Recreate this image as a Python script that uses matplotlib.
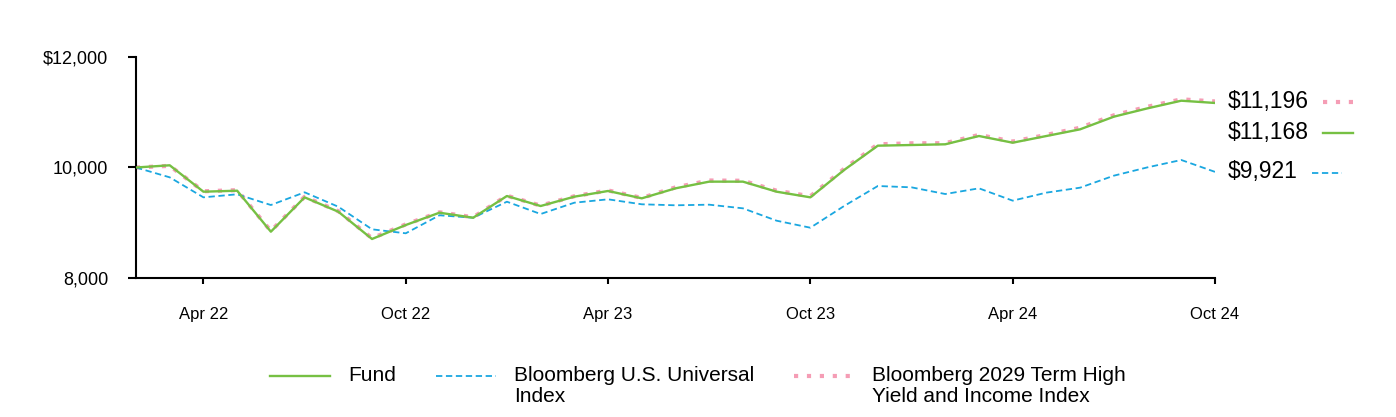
import matplotlib.pyplot as plt
from matplotlib.lines import Line2D
from matplotlib.ticker import FuncFormatter

plt.rcParams['font.family'] = ['Liberation Sans', 'DejaVu Sans']

# monthly values, Feb 22 .. Oct 24
months = ["Feb 22", "Mar 22", "Apr 22", "May 22", "Jun 22", "Jul 22", "Aug 22", "Sep 22",
          "Oct 22", "Nov 22", "Dec 22", "Jan 23", "Feb 23", "Mar 23", "Apr 23", "May 23",
          "Jun 23", "Jul 23", "Aug 23", "Sep 23", "Oct 23", "Nov 23", "Dec 23", "Jan 24",
          "Feb 24", "Mar 24", "Apr 24", "May 24", "Jun 24", "Jul 24", "Aug 24", "Sep 24",
          "Oct 24"]
fund = [10000, 10040, 9562, 9580, 8838, 9460, 9200, 8706, 8959, 9182, 9091, 9484,
        9303, 9472, 9575, 9442, 9623, 9744, 9744, 9562, 9460, 9955, 10395, 10407,
        10420, 10570, 10449, 10570, 10691, 10920, 11071, 11209, 11168]
universal = [10000, 9822, 9460, 9515, 9321, 9551, 9290, 8881, 8809, 9135, 9091, 9381,
             9158, 9363, 9424, 9334, 9316, 9327, 9261, 9037, 8910, 9303, 9665, 9641,
             9520, 9623, 9400, 9545, 9635, 9852, 10003, 10136, 9921]
high_yield = [10000, 10030, 9570, 9590, 8850, 9470, 9210, 8720, 8970, 9190, 9100, 9490,
              9310, 9480, 9585, 9450, 9640, 9765, 9760, 9580, 9480, 9975, 10420, 10438,
              10440, 10590, 10470, 10590, 10720, 10945, 11100, 11234, 11196]
tick_labels = ["Apr 22", "Oct 22", "Apr 23", "Oct 23", "Apr 24", "Oct 24"]
names = ["Fund", "Bloomberg U.S. Universal\nIndex", "Bloomberg 2029 Term High\nYield and Income Index"]
end_labels = ["$11,168", "$9,921", "$11,196"]

GREEN = "#76C043"
BLUE = "#1AA7E0"
PINK = "#F59DB5"

fig = plt.figure(figsize=(13.96, 4.17), dpi=100)
ax = fig.add_axes([136 / 1396, 1 - 278 / 417, (1215 - 136) / 1396, (278 - 57) / 417])

x = list(range(len(months)))
styles = [
    dict(color=GREEN, lw=1.7, ls="-", zorder=3),
    dict(color=BLUE, lw=1.3, ls=(0, (3.5, 2.0)), zorder=2),
    dict(color=PINK, lw=3.0, ls=(0, (1, 2.1)), zorder=1, dash_capstyle="butt"),
]
series = [fund, universal, high_yield]
for vals, st, name in zip(series, styles, names):
    ax.plot(x, vals, label=name, **st)

ax.set_xlim(0, len(months) - 1)
ax.set_ylim(8000, 12000)
ax.set_yticks([8000, 10000, 12000])
ax.yaxis.set_major_formatter(FuncFormatter(lambda v, p: ("$" if v == 12000 else "") + f"{v:,.0f}"))
ax.set_xticks([months.index(t) for t in tick_labels])
ax.set_xticklabels(tick_labels)
ax.tick_params(axis="y", length=6, width=1.5, pad=14, labelsize=13)
ax.tick_params(axis="x", length=4, width=1.5, pad=17, labelsize=12)
for s in ["top", "right"]:
    ax.spines[s].set_visible(False)
for s in ["left", "bottom"]:
    ax.spines[s].set_linewidth(1.5)

# end-of-line value labels with small line samples
offsets = [-21, 0, 0]
texts = []
for vals, lab, dy in zip(series, end_labels, offsets):
    t = ax.annotate(lab, xy=(x[-1], vals[-1]), xytext=(9.5, dy), textcoords="offset points",
                    va="center", ha="left", fontsize=16.5, annotation_clip=False)
    texts.append(t)

fig.canvas.draw()
r = fig.canvas.get_renderer()
for t, st in zip(texts, styles):
    bb = t.get_window_extent(r)
    ymid = (bb.y0 + bb.y1) / 2 - 1
    kw = {k: v for k, v in st.items() if k != "zorder"}
    fig.add_artist(Line2D([bb.x1 + 14, bb.x1 + 44], [ymid, ymid], transform=None, **kw))

# legend at the bottom, handle lined up with the first text line
H = fig.bbox.height
handle_len, text_gap, col_gap = 60, 18, 40
line_y = H - 376
legend_texts = []
for name in names:
    t = fig.text(0, H - 366, name, fontsize=15, va="top", linespacing=1.12, transform=None)
    legend_texts.append(t)
fig.canvas.draw()
widths = [t.get_window_extent(r).width for t in legend_texts]
total = sum(widths) + len(names) * (handle_len + text_gap) + (len(names) - 1) * col_gap
x0 = (fig.bbox.width - total) / 2
for t, w, st in zip(legend_texts, widths, styles):
    kw = {k: v for k, v in st.items() if k != "zorder"}
    fig.add_artist(Line2D([x0, x0 + handle_len], [line_y, line_y], transform=None, **kw))
    t.set_position((x0 + handle_len + text_gap, H - 366))
    x0 += handle_len + text_gap + w + col_gap

fig.savefig("out.png", dpi=100)
